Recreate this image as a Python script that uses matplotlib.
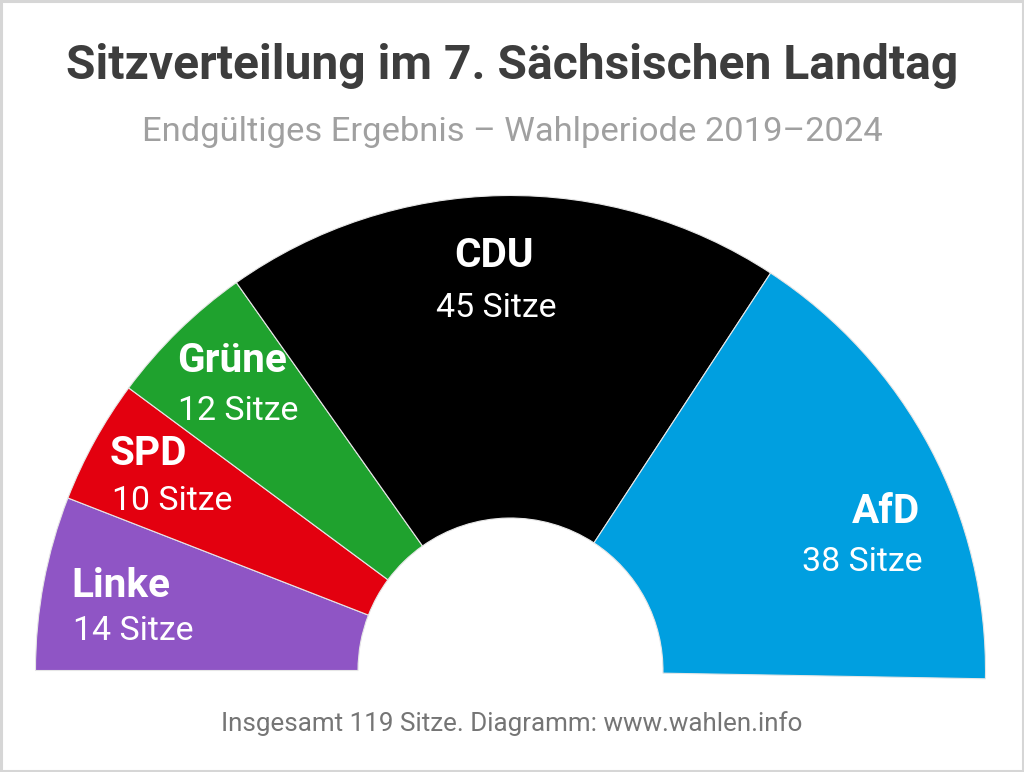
import numpy as np
import matplotlib
matplotlib.use("Agg")
import matplotlib.pyplot as plt
from matplotlib.patches import Wedge, Rectangle

# ---- data ----
parties = ["Linke", "SPD", "Grüne", "CDU", "AfD"]
seats = [14, 10, 12, 45, 38]
seat_labels = ["14 Sitze", "10 Sitze", "12 Sitze", "45 Sitze", "38 Sitze"]
title = "Sitzverteilung im 7. Sächsischen Landtag"
subtitle = "Endgültiges Ergebnis – Wahlperiode 2019–2024"
footer = "Insgesamt 119 Sitze. Diagramm: www.wahlen.info"

# ---- style ----
colors = ["#8f55c5", "#e3000f", "#1fa22e", "#000000", "#009fe0"]
SPAN = 181.0          # degrees covered by the arc
INNER = 0.321         # inner radius relative to outer
LABEL_R = 0.815
# per-label (name offset, count offset, alignment) in pixels relative to anchor
label_style = {
    "Linke": ((-59, 2), (-57, -41), "left"),
    "SPD": ((-62, 18.5), (-60, -26.5), "left"),
    "Grüne": ((-63, 22), (-62, -26), "left"),
    "CDU": ((-9.7, 16.5), (-7.7, -33.5), "center"),
    "AfD": ((67.5, -33.6), (69.5, -81.6), "right"),
}

plt.rcParams["font.family"] = ["Roboto", "DejaVu Sans"]

W, H, DPI = 1024, 772, 100
fig = plt.figure(figsize=(W / DPI, H / DPI), dpi=DPI)
fig.patch.set_facecolor("white")

PX = 475.0  # pixels per data unit
cx, cy = 510.5, 670.5
ax = fig.add_axes([0, 0, 1, 1])
ax.set_xlim(-cx / PX, (W - cx) / PX)
ax.set_ylim((cy - H) / PX, cy / PX)
ax.set_aspect("equal")
ax.axis("off")

total = sum(seats)
start = 180.0
for name, n, lab, col in zip(parties, seats, seat_labels, colors):
    ext = n / total * SPAN
    t2 = start
    t1 = start - ext
    ax.add_patch(Wedge((0, 0), 1.0, t1, t2, width=1 - INNER,
                       facecolor=col, edgecolor="#e6e6e6", linewidth=0.8))
    mid = np.deg2rad((t1 + t2) / 2)
    anchor = (LABEL_R * np.cos(mid), LABEL_R * np.sin(mid))
    (nx, ny), (sx, sy), ha = label_style[name]
    ax.annotate(name, xy=anchor, xytext=(nx, ny), textcoords="offset pixels",
                ha=ha, va="baseline", color="white", fontsize=29.2,
                fontweight="bold")
    ax.annotate(lab, xy=anchor, xytext=(sx, sy), textcoords="offset pixels",
                ha=ha, va="baseline", color="white", fontsize=24.4)
    start = t1

fig.text(512 / W, 1 - 79 / H, title, ha="center", va="baseline",
         fontsize=34.6, fontweight="bold", color="#3d3d3d")
fig.text(512.5 / W, 1 - 141 / H, subtitle, ha="center", va="baseline",
         fontsize=24.8, color="#a0a0a0")
fig.text(511.5 / W, 1 - 731 / H, footer, ha="center", va="baseline",
         fontsize=18.7, color="#757575")

fig.add_artist(Rectangle((0.001, 0.0015), 0.998, 0.997, transform=fig.transFigure,
                         fill=False, edgecolor="#d6d6d6", linewidth=2.2))

fig.savefig("out.png", dpi=DPI, facecolor="white")
